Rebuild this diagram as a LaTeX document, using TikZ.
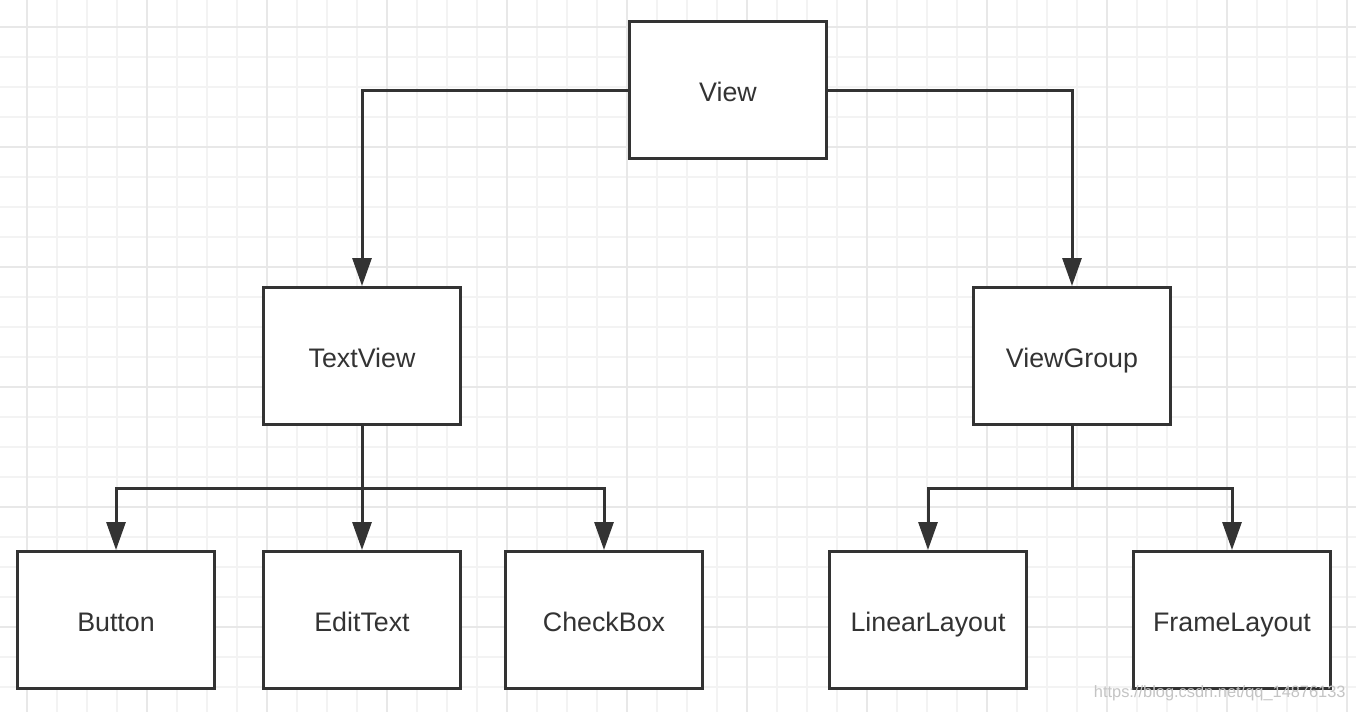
\documentclass[tikz,border=0pt]{standalone}
\usepackage{fontspec}
\setmainfont{Liberation Sans}
\usetikzlibrary{arrows.meta}
\definecolor{ink}{HTML}{333333}
\definecolor{gridminor}{HTML}{F3F3F3}
\definecolor{gridmajor}{HTML}{E8E8E8}
\definecolor{mark}{HTML}{C4C4C4}

\begin{document}
\begin{tikzpicture}[x=0.5pt,y=-0.5pt,font=\fontsize{13.4}{16}\selectfont,
  cls/.style={draw=ink,line width=1.5pt,minimum width=98.5pt,minimum height=68.5pt,inner sep=0pt,text=ink,fill=white,text height=11.6pt,text depth=0.6pt},
  inherit/.style={draw=ink,line width=1.5pt,-{Triangle[length=14pt,width=9.5pt]}},
  bus/.style={draw=ink,line width=1.5pt}]

\useasboundingbox (0,0) rectangle (1356,712);

% grid
\begin{scope}
\fill[white] (0,0) rectangle (1356,712);
\foreach \x in {27,57,...,1356} \draw[gridminor,line width=0.6pt] (\x,0) -- (\x,712);
\foreach \y in {27,57,...,712} \draw[gridminor,line width=0.6pt] (0,\y) -- (1356,\y);
\foreach \x in {27,147,...,1356} \draw[gridmajor,line width=0.8pt] (\x,0) -- (\x,712);
\foreach \y in {27,147,...,712} \draw[gridmajor,line width=0.8pt] (0,\y) -- (1356,\y);
\end{scope}

% classes
\node[cls] (view) at (728,90) {View};
\node[cls] (textview) at (362,356) {TextView};
\node[cls] (viewgroup) at (1072,356) {ViewGroup};
\node[cls] (button) at (116,620) {Button};
\node[cls] (edittext) at (362,620) {EditText};
\node[cls] (checkbox) at (604,620) {CheckBox};
\node[cls] (linearlayout) at (928,620) {LinearLayout};
\node[cls] (framelayout) at (1232,620) {FrameLayout};

% inheritance
\draw[inherit] (view.west) -| (textview.north);
\draw[inherit] (view.east) -| (viewgroup.north);

\coordinate (tvbus) at (362,488);
\coordinate (vgbus) at (1072,488);
\draw[bus] (textview.south) -- (tvbus);
\draw[inherit] (tvbus) -| (button.north);
\draw[inherit] (tvbus) -- (edittext.north);
\draw[inherit] (tvbus) -| (checkbox.north);
\draw[bus] (viewgroup.south) -- (vgbus);
\draw[inherit] (vgbus) -| (linearlayout.north);
\draw[inherit] (vgbus) -| (framelayout.north);

\node[anchor=east,text=mark,font=\fontsize{8.2}{10}\selectfont,inner sep=0pt] (watermark) at (1346,693) {https://blog.csdn.net/qq\_14876133};

\end{tikzpicture}
\end{document}
